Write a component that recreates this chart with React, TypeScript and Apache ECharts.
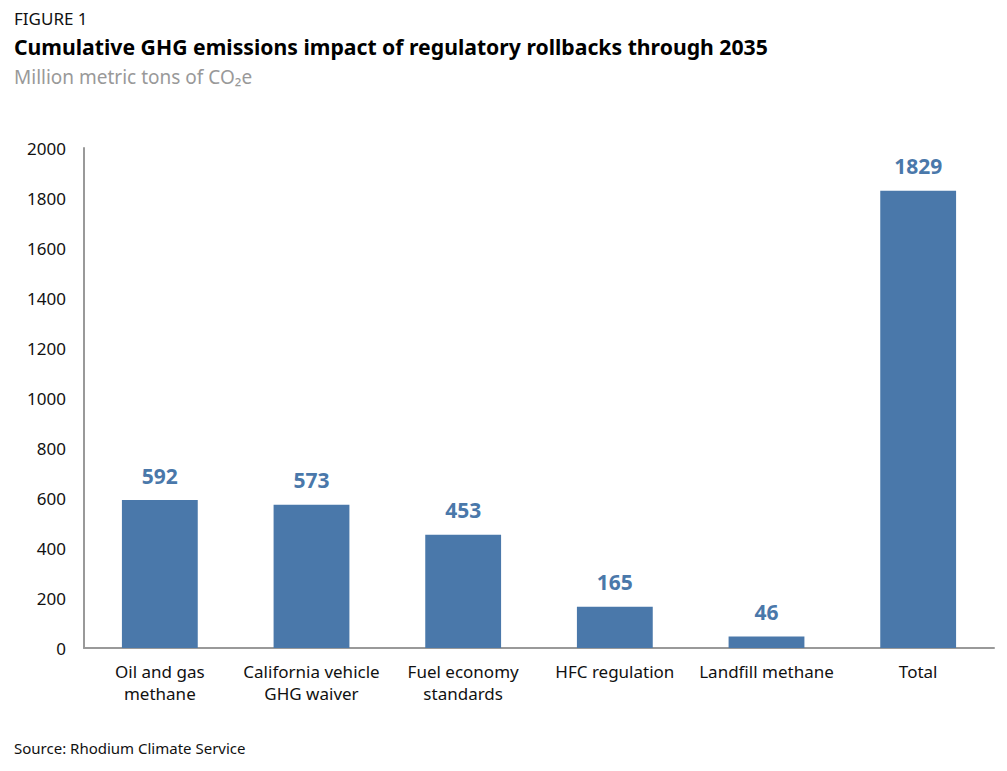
import React, { useEffect, useRef } from "react";
import * as echarts from "echarts";

const categories = [
  "Oil and gas\nmethane",
  "California vehicle\nGHG waiver",
  "Fuel economy\nstandards",
  "HFC regulation",
  "Landfill methane",
  "Total",
];
const values = [592, 573, 453, 165, 46, 1829];
const yMin = 0;
const yMax = 2000;
const yInterval = 200;

const FONT = "'Noto Sans', 'Open Sans', sans-serif";
const BLUE = "#4a78aa";

export default function App() {
  const ref = useRef<HTMLDivElement>(null);
  useEffect(() => {
    if (!ref.current) return;
    const chart = echarts.init(ref.current, undefined, { renderer: "svg" });
    chart.setOption({
      animation: false,
      textStyle: { fontFamily: FONT },
      title: [
        {
          text: "FIGURE 1",
          left: 9,
          top: 5,
          textStyle: { fontFamily: FONT, fontSize: 17, fontWeight: "normal", color: "#111" },
        },
        {
          text: "Cumulative GHG emissions impact of regulatory rollbacks through 2035",
          left: 9,
          top: 31,
          textStyle: { fontFamily: FONT, fontSize: 21.2, fontWeight: "bold", color: "#000" },
        },
        {
          text: "Million metric tons of CO₂e",
          left: 9,
          top: 62,
          textStyle: { fontFamily: FONT, fontSize: 19, fontWeight: "normal", color: "#999" },
        },
        {
          text: "Source: Rhodium Climate Service",
          left: 9,
          top: 735,
          textStyle: { fontFamily: FONT, fontSize: 15, fontWeight: "normal", color: "#111" },
        },
      ],
      grid: { left: 84, right: 13, top: 148, bottom: 123, containLabel: false },
      xAxis: {
        type: "category",
        data: categories,
        axisLine: { show: true, lineStyle: { color: "#999", width: 2 } },
        axisTick: { show: false },
        axisLabel: {
          interval: 0,
          fontFamily: FONT,
          fontSize: 17,
          color: "#111",
          lineHeight: 22,
          margin: 12,
        },
      },
      yAxis: {
        type: "value",
        min: yMin,
        max: yMax,
        interval: yInterval,
        splitLine: { show: false },
        axisLine: { show: true, lineStyle: { color: "#999", width: 2 } },
        axisTick: { show: false },
        axisLabel: {
          fontFamily: FONT,
          fontSize: 17,
          color: "#111",
          margin: 18,
          formatter: (v: number) => String(v),
        },
      },
      series: [
        {
          type: "bar",
          data: values,
          barWidth: "50%",
          itemStyle: { color: BLUE },
          label: {
            show: true,
            position: "top",
            distance: 14,
            fontFamily: FONT,
            fontSize: 21,
            fontWeight: "bold",
            color: BLUE,
          },
        },
      ],
    });
    return () => chart.dispose();
  }, []);
  return (
    <div
      ref={ref}
      style={{ position: "fixed", left: 0, top: 0, width: 1007, height: 771, background: "#fff" }}
    />
  );
}
